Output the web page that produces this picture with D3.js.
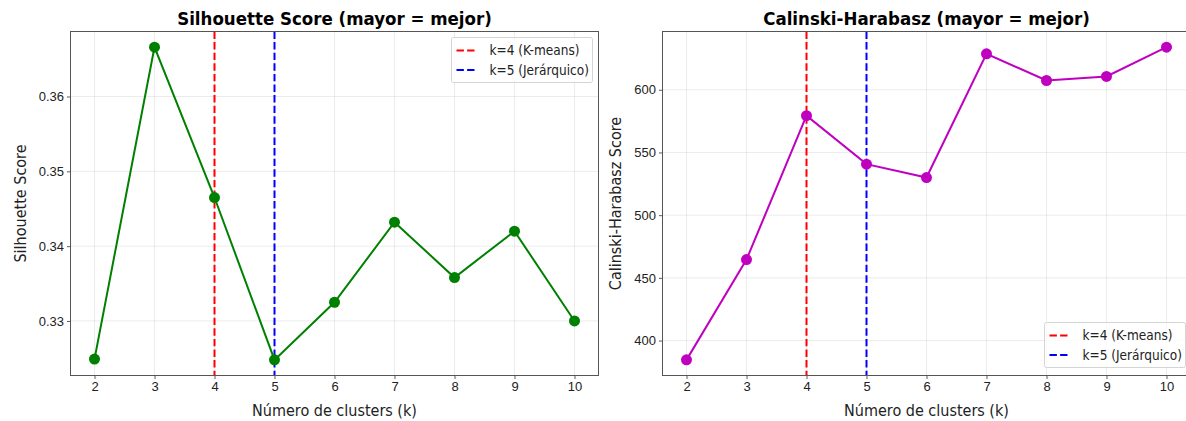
<!DOCTYPE html>
<html>
<head>
<meta charset="utf-8">
<script src="https://cdn.jsdelivr.net/npm/d3@7"></script>
<style>
  body { margin: 0; background: #fff; }
  svg { display: block; font-family: "DejaVu Sans Condensed", "DejaVu Sans", sans-serif; }
</style>
</head>
<body>
<svg id="chart" width="1186" height="421"></svg>
<script>
// data
var ks = [2, 3, 4, 5, 6, 7, 8, 9, 10];
var silhouette = [0.3249, 0.3666, 0.3465, 0.3248, 0.3325, 0.3432, 0.3358, 0.3420, 0.3300];
var calinski = [384.6, 464.6, 579.3, 540.7, 530.0, 628.7, 607.4, 610.6, 634.0];
var silTicks = [0.33, 0.34, 0.35, 0.36];
var chTicks = [400, 450, 500, 550, 600];
var markers = [
  { k: 4, label: 'k=4 (K-means)', color: '#ff0000' },
  { k: 5, label: 'k=5 (Jerárquico)', color: '#0000ff' }
];

var svg = d3.select('#chart');

var panels = [
  { left: 70.5, top: 31.5, title: 'Silhouette Score (mayor = mejor)', ylabel: 'Silhouette Score', yoff: -45,
    values: silhouette, ticks: silTicks, fmt: d3.format('.2f'), color: '#008000', legend: 'top' },
  { left: 662.5, top: 31.5, title: 'Calinski-Harabasz (mayor = mejor)', ylabel: 'Calinski-Harabasz Score', yoff: -42,
    values: calinski, ticks: chTicks, fmt: d3.format('d'), color: '#bf00bf', legend: 'bottom' }
];

var w = 528, h = 344;

panels.forEach(function(p) {
  var g = svg.append('g').attr('transform', 'translate(' + p.left + ',' + p.top + ')');

  // matplotlib style 5% margins
  var x = d3.scaleLinear().domain([2 - 0.4, 10 + 0.4]).range([0, w]);
  var ext = d3.extent(p.values), pad = (ext[1] - ext[0]) * 0.05;
  var y = d3.scaleLinear().domain([ext[0] - pad, ext[1] + pad]).range([h, 0]);

  // grid
  g.append('g').selectAll('line').data(ks).enter().append('line')
    .attr('x1', function(d) { return x(d); }).attr('x2', function(d) { return x(d); })
    .attr('y1', 0).attr('y2', h)
    .style('stroke', '#b0b0b0').style('stroke-opacity', 0.3).style('stroke-width', 0.8);
  g.append('g').selectAll('line').data(p.ticks).enter().append('line')
    .attr('y1', function(d) { return y(d); }).attr('y2', function(d) { return y(d); })
    .attr('x1', 0).attr('x2', w)
    .style('stroke', '#b0b0b0').style('stroke-opacity', 0.3).style('stroke-width', 0.8);

  // axes
  var xAxis = g.append('g').attr('transform', 'translate(0,' + h + ')')
    .call(d3.axisBottom(x).tickValues(ks).tickSize(3.5).tickPadding(3).tickFormat(d3.format('d')));
  var yAxis = g.append('g')
    .call(d3.axisLeft(y).tickValues(p.ticks).tickSize(3.5).tickPadding(3).tickFormat(p.fmt));
  [xAxis, yAxis].forEach(function(a) {
    a.select('.domain').remove();
    a.selectAll('line').style('stroke', '#333').style('stroke-width', 0.8);
    a.selectAll('text').style('font-size', '13px').style('fill', '#222');
  });

  // vertical reference lines
  markers.forEach(function(m) {
    g.append('line')
      .attr('x1', x(m.k)).attr('x2', x(m.k)).attr('y1', 0).attr('y2', h)
      .style('stroke', m.color).style('stroke-width', 2).style('stroke-dasharray', '7.4,3.2');
  });

  // series
  var line = d3.line().x(function(d, i) { return x(ks[i]); }).y(function(d) { return y(d); });
  g.append('path').datum(p.values).attr('d', line)
    .style('fill', 'none').style('stroke', p.color).style('stroke-width', 2);
  g.selectAll('circle.pt').data(p.values).enter().append('circle')
    .attr('class', 'pt')
    .attr('cx', function(d, i) { return x(ks[i]); })
    .attr('cy', function(d) { return y(d); })
    .attr('r', 5.5)
    .style('fill', p.color);

  // frame
  g.append('rect').attr('width', w).attr('height', h)
    .style('fill', 'none').style('stroke', '#555').style('stroke-width', 1);

  // titles
  g.append('text').attr('x', w / 2).attr('y', -7).attr('text-anchor', 'middle')
    .style('font-size', '18.5px').style('font-weight', 'bold').text(p.title);
  g.append('text').attr('x', w / 2).attr('y', h + 40).attr('text-anchor', 'middle')
    .style('font-size', '16px').style('fill', '#222').text('Número de clusters (k)');
  g.append('text').attr('transform', 'translate(' + p.yoff + ',' + (h / 2) + ') rotate(-90)')
    .attr('text-anchor', 'middle').style('font-size', '16px').style('fill', '#222').text(p.ylabel);

  // legend
  var lw = 141, lh = 45;
  var lx = p.legend === 'top' ? w - lw - 6 : w - lw - 5;
  var ly = p.legend === 'top' ? 6 : h - lh - 8;
  var leg = g.append('g').attr('transform', 'translate(' + lx + ',' + ly + ')');
  leg.append('rect').attr('width', lw).attr('height', lh).attr('rx', 2)
    .style('fill', '#fff').style('fill-opacity', 0.8).style('stroke', '#d5d5d5').style('stroke-width', 1);
  markers.forEach(function(m, i) {
    var yy = 13 + i * 19.5;
    leg.append('line').attr('x1', 5).attr('x2', 26).attr('y1', yy).attr('y2', yy)
      .style('stroke', m.color).style('stroke-width', 2).style('stroke-dasharray', '7.4,3.2');
    leg.append('text').attr('x', 38).attr('y', yy + 4.5).style('font-size', '13.5px').style('fill', '#222').text(m.label);
  });
});
</script>
</body>
</html>
